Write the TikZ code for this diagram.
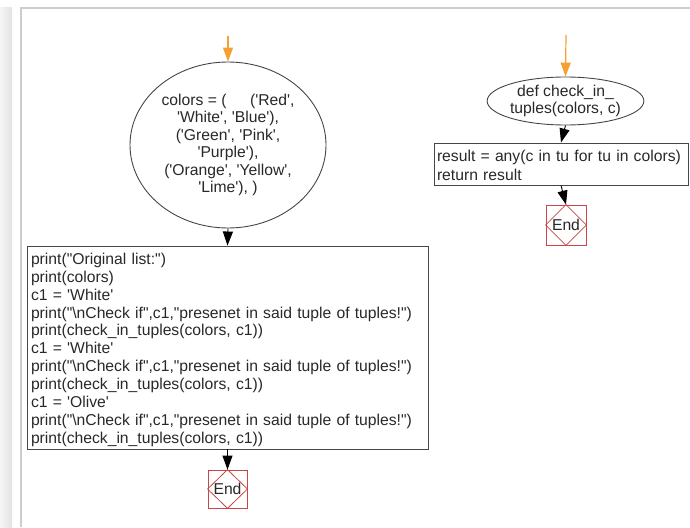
\documentclass[tikz,border=0pt]{standalone}
\usepackage{fontspec}
\setmainfont{Liberation Sans}[Ligatures=TeXOff]
\usetikzlibrary{shapes.geometric,arrows.meta}
\definecolor{txt}{RGB}{40,40,40}
\definecolor{edge}{RGB}{70,70,70}
\definecolor{endred}{RGB}{200,70,70}
\definecolor{orangearrow}{RGB}{245,160,50}
\definecolor{frame}{RGB}{205,205,205}
\tikzset{
  codefont/.style={font=\fontsize{15.7}{17.9}\selectfont, text=txt},
  proc/.style={draw=edge, line width=0.9pt, rectangle, codefont, align=left, inner sep=4pt},
  oval/.style={draw=edge, line width=0.9pt, ellipse, text=txt, align=center, inner sep=0pt},
  endbox/.style={draw=endred, line width=0.8pt, rectangle, minimum width=39pt, minimum height=38pt, inner sep=0pt, codefont},
  flow/.style={draw=black, line width=0.9pt, -{Triangle[width=10pt,length=14pt]}},
  startflow/.style={draw=orangearrow, line width=1.2pt, -{Triangle[width=10pt,length=14pt]}},
}
\begin{document}
\begin{tikzpicture}[x=1pt,y=-1pt]
\useasboundingbox (0,0) rectangle (690,527);
% window frame
\shade[left color=white!92!gray, right color=gray!22] (0,8) rectangle (12,527);
\draw[frame, line width=1.2pt] (21,527) -- (21,8) -- (690,8);

% left flow
\coordinate (s1) at (228,36);
\node[oval, minimum width=196pt, minimum height=166pt, font=\fontsize{15.7}{17.4}\selectfont] (e1) at (228,145) {colors = (\hspace{1.5em}('Red',\\'White', 'Blue'),\\('Green', 'Pink',\\'Purple'),\\('Orange', 'Yellow',\\'Lime'), )};
\node[proc, minimum width=401pt, minimum height=203pt, text width=393pt, inner ysep=0pt] (b1) at (227.5,347.5) {\rule{0pt}{16pt}print("Original list:")\\print(colors)\\c1 = 'White'\\print("\textbackslash nCheck if",c1,"presenet in said tuple of tuples!")\\print(check\_in\_tuples(colors, c1))\\c1 = 'White'\\print("\textbackslash nCheck if",c1,"presenet in said tuple of tuples!")\\print(check\_in\_tuples(colors, c1))\\c1 = 'Olive'\\print("\textbackslash nCheck if",c1,"presenet in said tuple of tuples!")\\print(check\_in\_tuples(colors, c1))};
\node[endbox] (end1) at (227.5,489) {End};
\draw[endred, line width=0.8pt] (end1.north) -- (end1.east) -- (end1.south) -- (end1.west) -- cycle;

\draw[startflow] (s1) -- (e1.north);
\draw[flow] (e1.south) -- (b1.north);
\draw[flow] (b1.south) -- (end1.north);

% right flow
\coordinate (s2) at (566,35);
\node[oval, minimum width=145pt, minimum height=48pt, font=\fontsize{15.7}{17}\selectfont] (e2) at (565.5,101) {def check\_in\_\\tuples(colors, c)};
\node[proc, minimum width=254pt, minimum height=42pt, text width=248pt, inner xsep=3pt, inner ysep=0pt, font=\fontsize{15.7}{19}\selectfont] (b2) at (561,164) {\rule{0pt}{15pt}result = any(c in tu for tu in colors)\\return result};
\node[endbox, minimum width=40pt, minimum height=40pt] (end2) at (566,225) {End};
\draw[endred, line width=0.8pt] (end2.north) -- (end2.east) -- (end2.south) -- (end2.west) -- cycle;

\draw[startflow] (s2) -- (e2.north);
\draw[flow] (e2.south) -- (b2.north);
\draw[flow] (b2.south) -- (end2.north);
\end{tikzpicture}
\end{document}
